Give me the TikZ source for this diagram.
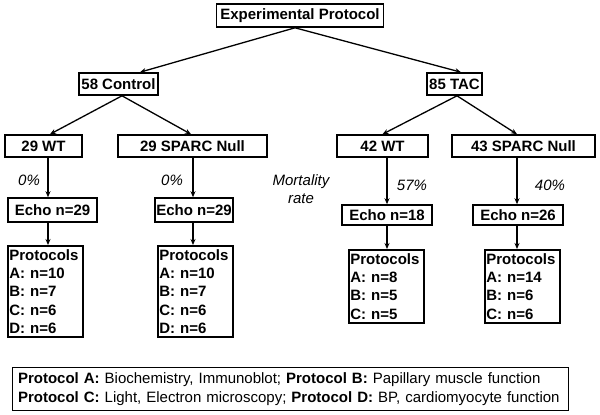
\documentclass[tikz,border=0pt]{standalone}
\usepackage{fontspec}
\setmainfont{Liberation Sans}
\usetikzlibrary{arrows.meta}
\newcommand\diafont{\fontsize{15}{18.3}\selectfont}
\begin{document}
\begin{tikzpicture}[x=1pt,y=-1pt,
  box/.style={draw,line width=1.6pt,inner sep=0pt,font=\diafont\bfseries,minimum height=22pt},
  list/.style={draw,line width=1.6pt,inner xsep=1.5pt,inner ysep=3.5pt,anchor=north west,
    align=left,text width=72pt,font=\diafont\bfseries},
  rate/.style={font=\diafont\itshape,align=center},
  arr/.style={line width=1.3pt,-{Stealth[length=6pt,width=5pt]}}]
  \useasboundingbox (0,0) rectangle (600,415);
  \node[box,minimum width=167pt,minimum height=23pt] (exp) at (300,15.5) {Experimental Protocol};
  \node[box,minimum width=79pt] (ctrl) at (118.5,84) {58 Control};
  \node[box,minimum width=55pt] (tac) at (454.5,84) {85 TAC};
  \node[box,minimum width=77pt] (wtc) at (43.5,146) {29 WT};
  \node[box,minimum width=149pt] (nullc) at (192.5,146) {29 SPARC Null};
  \node[box,minimum width=91pt] (wtt) at (382.5,146) {42 WT};
  \node[box,minimum width=143pt] (nullt) at (523.5,146) {43 SPARC Null};
  \node[box,minimum width=89pt,minimum height=24pt] (echowtc) at (52.5,210) {Echo n=29};
  \node[box,minimum width=78pt,minimum height=24pt] (echonullc) at (194,210) {Echo n=29};
  \node[box,minimum width=90pt,minimum height=20pt] (echowtt) at (387,215) {Echo n=18};
  \node[box,minimum width=90pt,minimum height=20pt] (echonullt) at (518,215) {Echo n=26};
  \node[list] (pwtc) at (7,245) {Protocols\\A: n=10\\B: n=7\\C: n=6\\D: n=6};
  \node[list] (pnullc) at (157,245) {Protocols\\A: n=10\\B: n=7\\C: n=6\\D: n=6};
  \node[list] (pwtt) at (348,249) {Protocols\\A: n=8\\B: n=5\\C: n=5};
  \node[list] (pnullt) at (484,249) {Protocols\\A: n=14\\B: n=6\\C: n=6};
  \node[rate] (ratewtc) at (29,180) {0\%};
  \node[rate] (ratenullc) at (172,180) {0\%};
  \node[rate] (mort) at (301,189) {Mortality\\rate};
  \node[rate] (ratewtt) at (412,185) {57\%};
  \node[rate] (ratenullt) at (550,185) {40\%};
  \node[draw,line width=1.1pt,anchor=north west,align=left,inner xsep=6pt,inner ysep=5pt,
    text width=544pt,font=\fontsize{15}{19}\selectfont] (key) at (11.5,367)
    {\textbf{Protocol A:} Biochemistry, Immunoblot; \textbf{Protocol B:} Papillary muscle function\\
     \textbf{Protocol C:} Light, Electron microscopy; \textbf{Protocol D:} BP, cardiomyocyte function};
  \draw[arr] ([xshift=-5pt]exp.south) -- ([xshift=21.5pt]ctrl.north);
  \draw[arr] ([xshift=-5pt]exp.south) -- ([xshift=6.5pt]tac.north);
  \draw[arr] ([xshift=3.5pt]ctrl.south) -- ([xshift=6.5pt]wtc.north);
  \draw[arr] ([xshift=3.5pt]ctrl.south) -- ([xshift=-1.5pt]nullc.north);
  \draw[arr] ([xshift=2.5pt]tac.south) -- (wtt.north);
  \draw[arr] ([xshift=2.5pt]tac.south) -- ([xshift=-6.5pt]nullt.north);
  \draw[arr] ([xshift=4.5pt]wtc.south) -- ([xshift=4.5pt]wtc.south |- echowtc.north);
  \draw[arr] ([xshift=-4.5pt]echowtc.south) -- ([xshift=-4.5pt]echowtc.south |- pwtc.north);
  \draw[arr] ([xshift=0.5pt]nullc.south) -- ([xshift=0.5pt]nullc.south |- echonullc.north);
  \draw[arr] ([xshift=-1pt]echonullc.south) -- ([xshift=-1pt]echonullc.south |- pnullc.north);
  \draw[arr] ([xshift=4.5pt]wtt.south) -- ([xshift=4.5pt]wtt.south |- echowtt.north);
  \draw[arr] (echowtt.south) -- (echowtt.south |- pwtt.north);
  \draw[arr] ([xshift=-6.5pt]nullt.south) -- ([xshift=-6.5pt]nullt.south |- echonullt.north);
  \draw[arr] ([xshift=-1pt]echonullt.south) -- ([xshift=-1pt]echonullt.south |- pnullt.north);
\end{tikzpicture}
\end{document}
